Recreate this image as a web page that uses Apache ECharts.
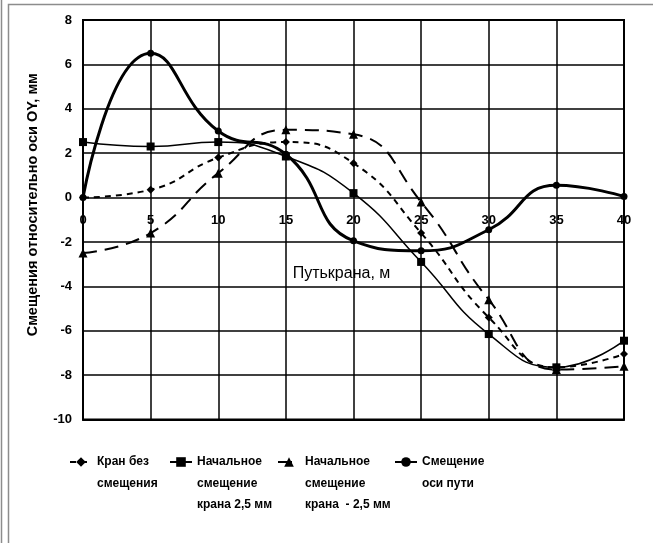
<!DOCTYPE html>
<html>
<head>
<meta charset="utf-8">
<script src="https://cdn.jsdelivr.net/npm/echarts@6/dist/echarts.min.js"></script>
<style>html,body{margin:0;padding:0;background:#fff;}#c{width:653px;height:543px;}</style>
</head>
<body>
<div id="c"></div>
<script>
const xValues = [0, 5, 10, 15, 20, 25, 30, 35, 40];
const craneNoOffset = [0, 0.35, 1.8, 2.5, 1.55, -1.6, -5.4, -7.65, -7.05];
const cranePlus25 = [2.5, 2.3, 2.5, 1.85, 0.2, -2.9, -6.15, -7.65, -6.45];
const craneMinus25 = [-2.5, -1.6, 1.1, 3.05, 2.85, -0.2, -4.6, -7.75, -7.6];
const trackAxis = [0, 6.5, 3.0, 1.95, -1.95, -2.4, -1.45, 0.55, 0.05];
const seriesNames = ['Кран без смещения', 'Начальное смещение крана 2,5 мм', 'Начальное смещение крана - 2,5 мм', 'Смещение оси пути'];
const legendLines = [['Кран без', 'смещения'], ['Начальное', 'смещение', 'крана 2,5 мм'], ['Начальное', 'смещение', 'крана  - 2,5 мм'], ['Смещение', 'оси пути']];
const xTitle = 'Путькрана, м';
const yTitle = 'Смещения относительно оси OY, мм';

const FONT = 'Liberation Sans, Arial, sans-serif';
const chart = echarts.init(document.getElementById('c'));
const pts = arr => xValues.map((x, i) => [x, arr[i]]);

const legendLeft = [69, 169, 277, 394];
const LH = 21.5;
const legends = legendLines.map((lines, i) => {
  const n = 2 * lines.length - 1;
  return {
    data: [seriesNames[i]],
    left: legendLeft[i],
    top: 462 - n * LH / 2,
    padding: 0,
    itemWidth: 22,
    itemHeight: 12,
    itemGap: 0,
    formatter: () => '\n'.repeat(lines.length - 1) + lines.join('\n'),
    textStyle: { fontFamily: FONT, fontWeight: 'bold', fontSize: 12, color: '#000', lineHeight: LH },
    selectedMode: false
  };
});

const baseSeries = (name, data, symbol, symbolSize, lineStyle) => ({
  name, type: 'line', data: pts(data), smooth: 0.5,
  symbol, symbolSize,
  itemStyle: { color: '#000' },
  lineStyle: Object.assign({ color: '#000' }, lineStyle),
  emphasis: { disabled: true },
  z: 3
});

chart.setOption({
  animation: false,
  backgroundColor: '#fff',
  textStyle: { fontFamily: FONT },
  grid: { left: 83, right: 29, top: 20, bottom: 123.5, show: true, borderColor: '#000', borderWidth: 2, backgroundColor: 'transparent' },
  legend: legends,
  graphic: [
    { type: 'line', shape: { x1: 1.5, y1: 0, x2: 1.5, y2: 543 }, style: { stroke: '#8c8c8c', lineWidth: 1.5 }, silent: true },
    { type: 'rect', shape: { x: 8.5, y: 4.5, width: 700, height: 700 }, style: { fill: 'none', stroke: '#8c8c8c', lineWidth: 1.5 }, silent: true }
  ],
  xAxis: {
    type: 'value', min: 0, max: 40, interval: 5,
    name: xTitle, nameLocation: 'middle', nameGap: -154, nameMoveOverlap: false,
    nameTextStyle: { fontFamily: FONT, fontSize: 16, color: '#000', padding: [0, 24, 0, 0] },
    axisLine: { onZero: false, lineStyle: { color: '#000', width: 2 } },
    axisTick: { show: false },
    axisLabel: { color: '#000', fontFamily: FONT, fontWeight: 'bold', fontSize: 13, margin: -205.5 },
    splitLine: { show: true, lineStyle: { color: '#000', width: 1.5 } }
  },
  yAxis: {
    type: 'value', min: -10, max: 8, interval: 2,
    name: yTitle, nameLocation: 'middle', nameGap: 43, nameMoveOverlap: false,
    nameTextStyle: { fontFamily: FONT, fontSize: 14.5, fontWeight: 'bold', color: '#000', padding: [0, 0, 0, 30] },
    axisLine: { onZero: false, lineStyle: { color: '#000', width: 2 } },
    axisTick: { show: false },
    axisLabel: { color: '#000', fontFamily: FONT, fontWeight: 'bold', fontSize: 13, margin: 11 },
    splitLine: { show: true, lineStyle: { color: '#000', width: 1.5 } }
  },
  series: [
    baseSeries(seriesNames[0], craneNoOffset, 'diamond', 8, { width: 2, type: [6, 5] }),
    baseSeries(seriesNames[1], cranePlus25, 'rect', 8, { width: 1.5, type: 'solid' }),
    baseSeries(seriesNames[2], craneMinus25, 'triangle', 9, { width: 2, type: [14, 8] }),
    baseSeries(seriesNames[3], trackAxis, 'circle', 7, { width: 3, type: 'solid' })
  ]
});
</script>
</body>
</html>
